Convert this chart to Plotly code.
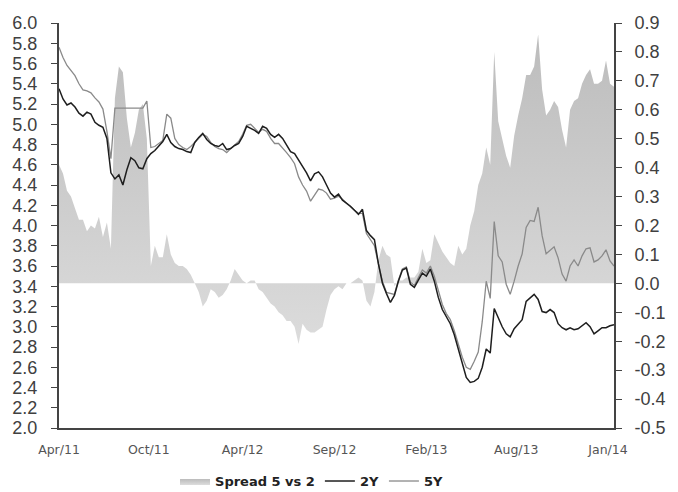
import plotly.graph_objects as go

# weekly observation index (Apr/11 .. Jan/14)
week = list(range(140))

yield_2y = [
    5.35, 5.25, 5.19, 5.21, 5.17, 5.11, 5.08, 5.12, 5.10, 5.02,
    4.99, 4.97, 4.86, 4.52, 4.46, 4.50, 4.40, 4.55, 4.67, 4.64,
    4.57, 4.56, 4.66, 4.71, 4.74, 4.78, 4.83, 4.90, 4.82, 4.78,
    4.76, 4.75, 4.73, 4.72, 4.82, 4.87, 4.91, 4.85, 4.81, 4.79,
    4.78, 4.81, 4.75, 4.76, 4.79, 4.81, 4.88, 4.98, 4.96, 4.94,
    4.91, 4.98, 4.96, 4.90, 4.87, 4.90, 4.86, 4.80, 4.73, 4.71,
    4.65, 4.58, 4.52, 4.44, 4.51, 4.53, 4.48, 4.40, 4.32, 4.28,
    4.31, 4.25, 4.22, 4.19, 4.15, 4.11, 4.16, 3.95, 3.90, 3.86,
    3.62, 3.43, 3.33, 3.24, 3.31, 3.45, 3.56, 3.58, 3.42, 3.39,
    3.46, 3.53, 3.50, 3.57, 3.45, 3.29, 3.17, 3.10, 3.03, 2.92,
    2.78, 2.66, 2.50, 2.45, 2.46, 2.49, 2.60, 2.78, 2.74, 3.18,
    3.08, 3.00, 2.93, 2.90, 2.98, 3.03, 3.07, 3.25, 3.29, 3.32,
    3.27, 3.15, 3.14, 3.17, 3.14, 3.03, 2.99, 2.97, 2.99, 2.97,
    2.98, 3.01, 3.04, 3.00, 2.93, 2.96, 2.99, 2.99, 3.01, 3.02,
]

yield_5y = [
    5.76, 5.66, 5.58, 5.53, 5.48, 5.40, 5.34, 5.33, 5.31, 5.26,
    5.22, 5.15, 4.93, 4.66, 5.16, 5.16, 5.16, 5.16, 5.16, 5.16,
    5.16, 5.16, 5.23, 4.77, 4.78, 4.81, 4.84, 5.10, 5.06, 4.86,
    4.80, 4.77, 4.75, 4.78, 4.82, 4.87, 4.90, 4.88, 4.82, 4.78,
    4.76, 4.75, 4.72, 4.76, 4.80, 4.83, 4.90, 4.99, 5.00, 4.96,
    4.92, 4.95, 4.93, 4.86, 4.81, 4.81, 4.77, 4.72, 4.67, 4.61,
    4.48, 4.40, 4.34, 4.24, 4.30, 4.36, 4.35, 4.32, 4.26, 4.27,
    4.29, 4.26, 4.22, 4.18, 4.15, 4.12, 4.12, 3.92, 3.86, 3.80,
    3.62, 3.45, 3.34, 3.33, 3.32, 3.46, 3.57, 3.59, 3.44, 3.41,
    3.49, 3.56, 3.53, 3.60, 3.50, 3.36, 3.22, 3.13, 3.07, 2.96,
    2.82, 2.70, 2.60, 2.58, 2.66, 2.75, 3.05, 3.45, 3.28, 4.04,
    3.70, 3.64, 3.42, 3.32, 3.45, 3.60, 3.72, 3.98, 4.05, 4.04,
    4.18, 3.90, 3.72, 3.76, 3.79, 3.68, 3.52, 3.45, 3.60, 3.66,
    3.60, 3.70, 3.77, 3.78, 3.64, 3.66, 3.70, 3.76, 3.65, 3.60,
]

spread_5v2 = [
    0.41, 0.38, 0.32, 0.30, 0.26, 0.22, 0.22, 0.18, 0.20, 0.19,
    0.23, 0.16, 0.21, 0.12, 0.64, 0.75, 0.73, 0.57, 0.47, 0.52,
    0.60, 0.62, 0.50, 0.06, 0.13, 0.09, 0.09, 0.17, 0.10, 0.07,
    0.06, 0.06, 0.05, 0.03, 0.00, -0.03, -0.08, -0.06, -0.02, -0.03,
    -0.05, -0.04, -0.02, 0.01, 0.05, 0.03, 0.01, 0.00, 0.01, 0.01,
    -0.02, -0.03, -0.05, -0.07, -0.08, -0.10, -0.11, -0.13, -0.13, -0.15,
    -0.21, -0.14, -0.16, -0.17, -0.17, -0.16, -0.15, -0.09, -0.04, -0.02,
    -0.01, -0.02, 0.00, 0.00, 0.01, 0.02, 0.01, -0.06, -0.08, -0.03,
    0.08, 0.13, 0.10, 0.09, -0.01, 0.01, 0.01, 0.02, 0.02, 0.02,
    0.04, 0.12, 0.07, 0.08, 0.17, 0.14, 0.11, 0.09, 0.07, 0.06,
    0.13, 0.10, 0.12, 0.20, 0.25, 0.34, 0.38, 0.47, 0.41, 0.80,
    0.56, 0.50, 0.44, 0.40, 0.51, 0.58, 0.64, 0.72, 0.72, 0.75,
    0.86, 0.67, 0.58, 0.60, 0.63, 0.61, 0.53, 0.47, 0.60, 0.63,
    0.64, 0.69, 0.72, 0.74, 0.69, 0.69, 0.70, 0.77, 0.69, 0.68,
]

x_tick_pos = [0, 22.5, 46, 69, 92, 114.5, 137.5]
x_tick_labels = ["Apr/11", "Oct/11", "Apr/12", "Sep/12", "Feb/13", "Aug/13", "Jan/14"]

left_tick_vals = [round(2.0 + 0.2 * k, 1) for k in range(21)]
left_tick_labels = ["%.1f" % v for v in left_tick_vals]
right_tick_vals = [-0.5, -0.4, -0.3, -0.2, -0.1, 0.0, 0.1, 0.2, 0.3, 0.4, 0.5, 0.6, 0.7, 0.8, 0.9]
right_tick_labels = ["-0.5", "-0.4", "-0.3", "-0.2", "-0.1", "0.0", "0.1", "0.2",
                     "0.3", "0.4", "0.5", "0.6", "0.7", "0.8", "0.9"]

fig = go.Figure()

fig.add_trace(go.Scatter(
    x=week, y=spread_5v2, name="Spread 5 vs 2", yaxis="y",
    mode="lines", line=dict(width=0, color="#cccccc"),
    fill="tozeroy", fillcolor="#cfcfcf",
    fillgradient=dict(type="vertical", start=-0.25, stop=0.9,
                      colorscale=[[0, "#dddddd"], [1, "#bbbbbb"]]),
    legendrank=1,
))
fig.add_trace(go.Scatter(
    x=week, y=yield_5y, name="5Y", yaxis="y2", mode="lines",
    line=dict(color="#8a8a8a", width=1.3), legendrank=3,
))
fig.add_trace(go.Scatter(
    x=week, y=yield_2y, name="2Y", yaxis="y2", mode="lines",
    line=dict(color="#1e1e1e", width=1.5), legendrank=2,
))

axis_font = dict(family="Liberation Sans, Arial, sans-serif", size=18, color="#404040")

# page body has an 8px margin, so the figure is 8px smaller and margins shifted
fig.update_layout(
    width=670, height=484,
    margin=dict(l=51, r=64, t=15, b=64, autoexpand=False),
    paper_bgcolor="white", plot_bgcolor="white",
    showlegend=True,
    legend=dict(orientation="h", x=0.455, xanchor="center", y=-0.131, yanchor="middle",
                font=dict(family="DejaVu Sans, Verdana, sans-serif", size=13, color="#222222",
                          weight="bold"),
                itemwidth=30, tracegroupgap=0, bgcolor="rgba(0,0,0,0)"),
    xaxis=dict(range=[0, 139], tickvals=x_tick_pos, ticktext=x_tick_labels,
               showgrid=False, zeroline=False, showline=True, linecolor="#444444", linewidth=2,
               ticks="", ticklabelstandoff=9, automargin=False,
               tickfont=dict(family="DejaVu Sans, Tahoma, sans-serif", size=12.5, color="#555555")),
    yaxis=dict(range=[-0.5, 0.9], side="right", tickvals=right_tick_vals, ticktext=right_tick_labels,
               showgrid=False, zeroline=False, showline=True, linecolor="#444444", linewidth=2,
               ticks="outside", ticklen=6, tickcolor="#444444", ticklabelstandoff=9,
               automargin=False, tickfont=axis_font),
    yaxis2=dict(range=[2.0, 6.0], side="left", overlaying="y", tickvals=left_tick_vals,
                ticktext=left_tick_labels,
                showgrid=False, zeroline=False, showline=True, linecolor="#444444", linewidth=2,
                ticks="outside", ticklen=6, tickcolor="#444444", ticklabelstandoff=10,
                automargin=False, tickfont=axis_font),
)

fig.write_html("out.html")
